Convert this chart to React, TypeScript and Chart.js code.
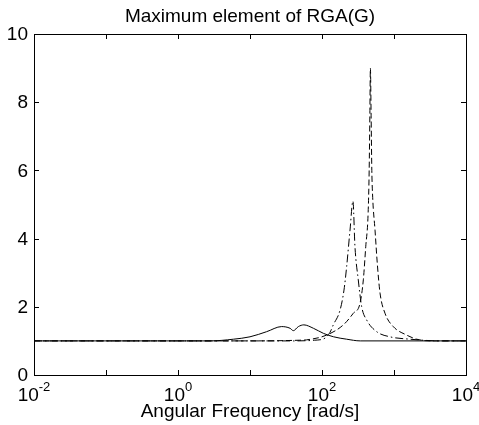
import React, { useEffect, useRef } from "react";
import { Chart, registerables } from "chart.js";

Chart.register(...registerables);

// ---- data ----
const titleText = "Maximum element of RGA(G)";
const xAxisLabel = "Angular Frequency [rad/s]";

const xTickValues = [0.01, 0.1, 1, 10, 100, 1000, 10000];
const xLabelValues = [0.01, 1, 100, 10000];
const xLabelExponents = ["-2", "0", "2", "4"];
const yTickValues = [0, 2, 4, 6, 8, 10];
const yTickLabels = ["0", "2", "4", "6", "8", "10"];

// solid curve (two small bumps near 30 and 55 rad/s)
const solidFreq = [0.01, 1, 2.8, 5.9, 10, 17, 27.5, 36, 40, 47, 56, 76, 105, 145, 220, 340, 1000, 10000];
const solidVal = [1, 1, 1.0, 1.05, 1.12, 1.27, 1.42, 1.37, 1.3, 1.42, 1.47, 1.37, 1.22, 1.12, 1.05, 1.0, 1.0, 1.0];

// dash-dot curve (peak about 5.1 near 270 rad/s)
const dashDotFreq = [0.01, 40, 79, 110, 129, 143.5, 178, 202, 220, 245, 269, 287, 319, 356, 418, 575, 880, 1670, 4400, 10000];
const dashDotVal = [1, 1.0, 1.02, 1.08, 1.25, 1.47, 1.9, 2.49, 3.18, 4.25, 5.1, 3.76, 2.79, 2.0, 1.61, 1.27, 1.12, 1.05, 1.0, 1.0];

// dashed curve (peak about 9 near 470 rad/s)
const dashFreq = [0.01, 10, 49, 61, 116, 198, 272, 337, 375, 405, 437, 452, 462, 470, 481, 492, 506, 545, 586, 640, 750, 977, 1500, 2065, 3162, 10000];
const dashVal = [1, 1.0, 1.02, 1.03, 1.17, 1.47, 1.81, 2.1, 2.79, 3.76, 4.74, 6.0, 7.6, 9.0, 7.6, 6.0, 5.2, 4.25, 3.27, 2.4, 1.81, 1.42, 1.17, 1.05, 1.0, 1.0];

const FONT = '"Liberation Sans", Arial, Helvetica, sans-serif';

function toPoints(xs: number[], ys: number[]) {
  return xs.map((x, i) => ({ x, y: ys[i] }));
}

const axesPlugin = {
  id: "matlabAxes",
  afterDraw(chart: any) {
    const ctx: CanvasRenderingContext2D = chart.ctx;
    const { left, right, top, bottom } = chart.chartArea;
    const xs = chart.scales.x;
    const ys = chart.scales.y;
    ctx.save();
    ctx.strokeStyle = "#000";
    ctx.lineWidth = 1;
    // box
    ctx.strokeRect(Math.round(left) + 0.5, Math.round(top) + 0.5, Math.round(right - left), Math.round(bottom - top));
    const tl = 5;
    ctx.beginPath();
    xTickValues.forEach((v) => {
      const px = Math.round(xs.getPixelForValue(v)) + 0.5;
      ctx.moveTo(px, bottom);
      ctx.lineTo(px, bottom - tl);
      ctx.moveTo(px, top);
      ctx.lineTo(px, top + tl);
    });
    yTickValues.forEach((v) => {
      const py = Math.round(ys.getPixelForValue(v)) + 0.5;
      ctx.moveTo(left, py);
      ctx.lineTo(left + tl, py);
      ctx.moveTo(right, py);
      ctx.lineTo(right - tl, py);
    });
    ctx.stroke();

    ctx.fillStyle = "#000";
    // y tick labels
    ctx.font = `19px ${FONT}`;
    ctx.textAlign = "right";
    ctx.textBaseline = "middle";
    yTickValues.forEach((v, i) => {
      const py = ys.getPixelForValue(v);
      ctx.fillText(yTickLabels[i], left - 6, py + 1);
    });

    // x tick labels: 10 with superscript exponent
    ctx.textBaseline = "alphabetic";
    ctx.textAlign = "left";
    xLabelValues.forEach((v, i) => {
      const px = xs.getPixelForValue(v);
      ctx.font = `19px ${FONT}`;
      const wb = ctx.measureText("10").width;
      ctx.font = `13px ${FONT}`;
      const we = ctx.measureText(xLabelExponents[i]).width;
      const x0 = px - (wb + we) / 2;
      ctx.font = `19px ${FONT}`;
      ctx.fillText("10", x0, 401);
      ctx.font = `13px ${FONT}`;
      ctx.fillText(xLabelExponents[i], x0 + wb, 391);
    });

    // x axis label
    ctx.font = `19px ${FONT}`;
    ctx.textAlign = "center";
    ctx.fillText(xAxisLabel, (left + right) / 2, 417);

    // title
    ctx.fillText(titleText, (left + right) / 2, 22);
    ctx.restore();
  },
};

export default function App() {
  const canvasRef = useRef<HTMLCanvasElement | null>(null);

  useEffect(() => {
    document.body.style.margin = "0";
    const canvas = canvasRef.current;
    if (!canvas) return;
    const common = {
      borderColor: "#000",
      borderWidth: 1,
      pointRadius: 0,
      fill: false,
      cubicInterpolationMode: "monotone" as const,
    };
    const chart = new Chart(canvas, {
      type: "line",
      data: {
        datasets: [
          { ...common, label: "solid", data: toPoints(solidFreq, solidVal) },
          { ...common, label: "dashdot", data: toPoints(dashDotFreq, dashDotVal), borderDash: [8, 3, 1.5, 3] },
          { ...common, label: "dashed", data: toPoints(dashFreq, dashVal), borderDash: [6, 3] },
        ],
      },
      options: {
        animation: false,
        responsive: false,
        devicePixelRatio: 1,
        parsing: false as any,
        layout: { padding: { left: 34, right: 13, top: 34, bottom: 50 } },
        plugins: { legend: { display: false }, tooltip: { enabled: false }, title: { display: false } },
        scales: {
          x: { type: "logarithmic", min: 0.01, max: 10000, display: false },
          y: { type: "linear", min: 0, max: 10, display: false },
        },
        events: [],
      },
      plugins: [axesPlugin],
    });
    return () => chart.destroy();
  }, []);

  return (
    <div style={{ width: 479, height: 425, background: "#fff" }}>
      <canvas ref={canvasRef} width={479} height={425} style={{ display: "block" }} />
    </div>
  );
}
